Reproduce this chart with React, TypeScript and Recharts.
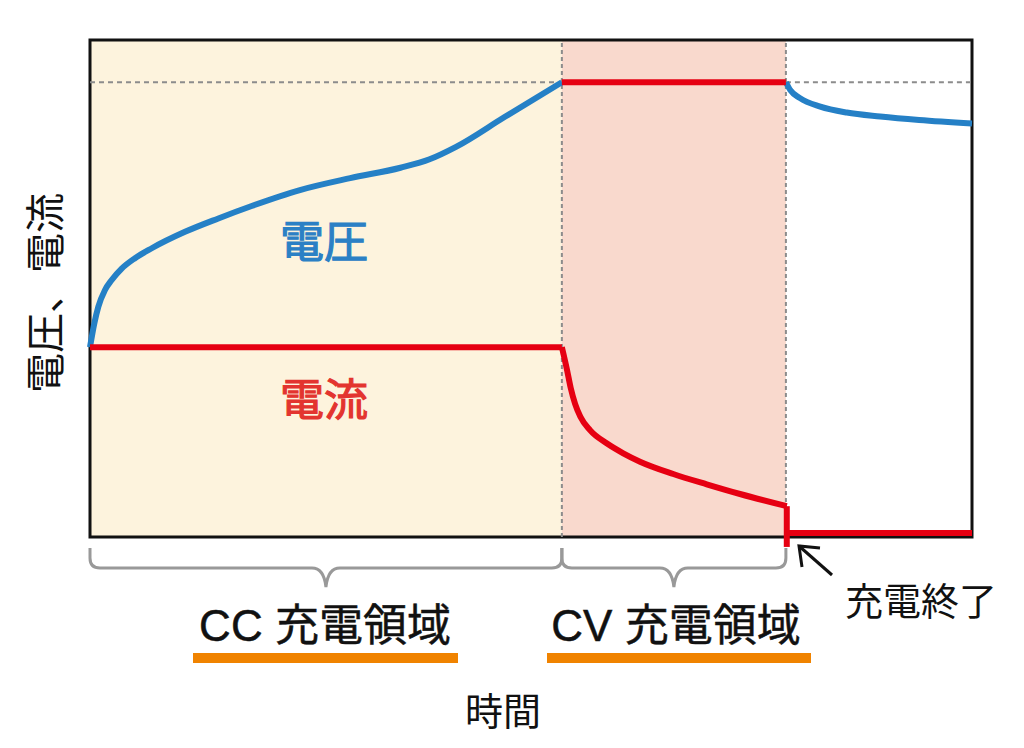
import { Line, LineChart, ReferenceArea, ReferenceLine, XAxis, YAxis } from "recharts"

const W = 1024
const H = 748
const FONT = '"Noto Sans CJK JP", "Noto Sans", sans-serif'
const LATIN_FONT = '"Liberation Sans", "Noto Sans CJK JP", sans-serif'

// plot frame in page pixels
const LEFT = 90
const RIGHT = 972
const TOP = 40
const BASE = 537
const Y_MIN = -4
const PX_X = (RIGHT - LEFT) / 100
const PX_Y = (BASE - TOP) / 100

// phase boundaries (time, 0..100)
const CC_END = 53.5
const CV_END = 78.9
const V_MAX = 91.5

// voltage during constant current
const ccTime = [0, 0.49, 0.94, 1.7, 2.46, 3.59, 5.1, 7, 10.77, 14.55, 18.33, 23.8, 29.5, 35.2, 38.5, 41.5, 47, 53.5]
const ccVoltage = [38.2, 43.0, 46.3, 49.7, 51.7, 54.0, 56.1, 58.1, 61.4, 64.1, 66.6, 69.8, 72.2, 74.3, 76.0, 78.5, 84.5, 91.5]

// voltage after charge end (relaxation)
const restTime = [78.9, 79.4, 80.5, 82.8, 85.8, 89.6, 94, 100]
const restVoltage = [91.5, 89.9, 88.3, 86.6, 85.4, 84.6, 83.9, 83.2]

// voltage held during constant voltage
const cvTime = [53.5, 78.9]
const cvVoltage = [91.5, 91.5]

// current
const ccCurTime = [0, 53.5]
const ccCurrent = [38.2, 38.2]
const cvCurTime = [53.5, 54.1, 54.5, 55.0, 55.6, 56.69, 58.58, 60.46, 62.36, 66.13, 69.92, 73.7, 79.0]
const cvCurrent = [38.2, 33.5, 30.0, 26.8, 24.2, 21.5, 18.85, 16.84, 15.16, 12.68, 10.6, 8.65, 6.2]
const dropTime = [79.0, 79.0]
const dropCurrent = [6.2, -2.0]
const endTime = [79.0, 100]
const endCurrent = [0.8, 0.8]

const pts = (t: number[], v: number[]) => t.map((x, i) => ({ t: x, v: v[i] }))

const sx = (t: number) => LEFT + t * PX_X

function brace(x1: number, x2: number) {
  const y1 = 548
  const yh = 568
  const tip = 587
  const r = 10
  const m = (x1 + x2) / 2
  return `M${x1} ${y1} L${x1} ${yh - r} Q${x1} ${yh} ${x1 + r} ${yh} L${m - 14} ${yh} Q${m - 2} ${yh} ${m} ${tip} Q${m + 2} ${yh} ${m + 14} ${yh} L${x2 - r} ${yh} Q${x2} ${yh} ${x2} ${yh - r} L${x2} ${y1}`
}

const BLUE = "#2580c6"
const RED = "#e60012"

export default function App() {
  const lineProps = { dot: false, isAnimationActive: false, strokeWidth: 6, dataKey: "v" }
  return (
    <div style={{ position: "fixed", left: 0, top: 0, width: W, height: H, background: "#fff", fontFamily: FONT }}>
      <LineChart
        width={W}
        height={H}
        margin={{ top: TOP, left: LEFT, right: W - RIGHT, bottom: H - (BASE - Y_MIN * PX_Y) }}
      >
        <XAxis type="number" dataKey="t" domain={[0, 100]} hide />
        <YAxis type="number" domain={[Y_MIN, 100]} hide />
        <ReferenceArea x1={0} x2={CC_END} y1={0} y2={100} fill="#fdf3dd" fillOpacity={1} stroke="none" />
        <ReferenceArea x1={CC_END} x2={CV_END} y1={0} y2={100} fill="#f9d9cd" fillOpacity={1} stroke="none" />
        <ReferenceLine segment={[{ x: 0, y: V_MAX }, { x: CC_END, y: V_MAX }]} stroke="#8c8c8c" strokeWidth={2} strokeDasharray="5 4" />
        <ReferenceLine segment={[{ x: CV_END, y: V_MAX }, { x: 100, y: V_MAX }]} stroke="#8c8c8c" strokeWidth={2} strokeDasharray="5 4" />
        <ReferenceLine segment={[{ x: CC_END, y: 0 }, { x: CC_END, y: 100 }]} stroke="#8c8c8c" strokeWidth={2} strokeDasharray="4 3" />
        <ReferenceLine segment={[{ x: CV_END, y: 0 }, { x: CV_END, y: 100 }]} stroke="#8c8c8c" strokeWidth={2} strokeDasharray="4 3" />
        <ReferenceArea x1={0} x2={100} y1={0} y2={100} fill="none" stroke="#111" strokeWidth={3} />
        <Line {...lineProps} data={pts(ccTime, ccVoltage)} type="monotone" stroke={BLUE} />
        <Line {...lineProps} data={pts(restTime, restVoltage)} type="monotone" stroke={BLUE} />
        <Line {...lineProps} data={pts(cvTime, cvVoltage)} type="linear" stroke={RED} />
        <Line {...lineProps} data={pts(ccCurTime, ccCurrent)} type="linear" stroke={RED} />
        <Line {...lineProps} data={pts(cvCurTime, cvCurrent)} type="monotone" stroke={RED} />
        <Line {...lineProps} data={pts(dropTime, dropCurrent)} type="linear" stroke={RED} />
        <Line {...lineProps} data={pts(endTime, endCurrent)} type="linear" stroke={RED} />
      </LineChart>
      <svg width={W} height={H} style={{ position: "absolute", left: 0, top: 0, pointerEvents: "none" }}>
        <g fontFamily={FONT} textAnchor="middle" dominantBaseline="central">
          <text x={324} y={239} fontSize={44} fill="#2b80c5" stroke="#2b80c5" strokeWidth={1.2}>電圧</text>
          <text x={324} y={397} fontSize={44} fill="#e3342f" stroke="#e3342f" strokeWidth={1.2}>電流</text>
          <text x={43} y={293} fontSize={40} fill="#111" transform="rotate(-90 43 293)">電圧、電流</text>
          <text x={325} y={625} fontSize={44} fill="#111" stroke="#111" strokeWidth={0.5} fontFamily={LATIN_FONT}>CC 充電領域</text>
          <text x={676} y={625} fontSize={44} fill="#111" stroke="#111" strokeWidth={0.5} fontFamily={LATIN_FONT}>CV 充電領域</text>
          <text x={921} y={598} fontSize={38} fill="#111">充電終了</text>
          <text x={503} y={708} fontSize={38} fill="#111">時間</text>
        </g>
        <path d={brace(sx(0), sx(CC_END))} fill="none" stroke="#999" strokeWidth={3} />
        <path d={brace(sx(CC_END), sx(CV_END))} fill="none" stroke="#999" strokeWidth={3} />
        <rect x={193} y={653} width={265} height={10} fill="#f08300" />
        <rect x={547} y={653} width={264} height={10} fill="#f08300" />
        <g stroke="#111" strokeWidth={3} fill="none">
          <line x1={832} y1={575} x2={799} y2={546} />
          <polyline points="820,548 799,546 802,567" />
        </g>
      </svg>
    </div>
  )
}
